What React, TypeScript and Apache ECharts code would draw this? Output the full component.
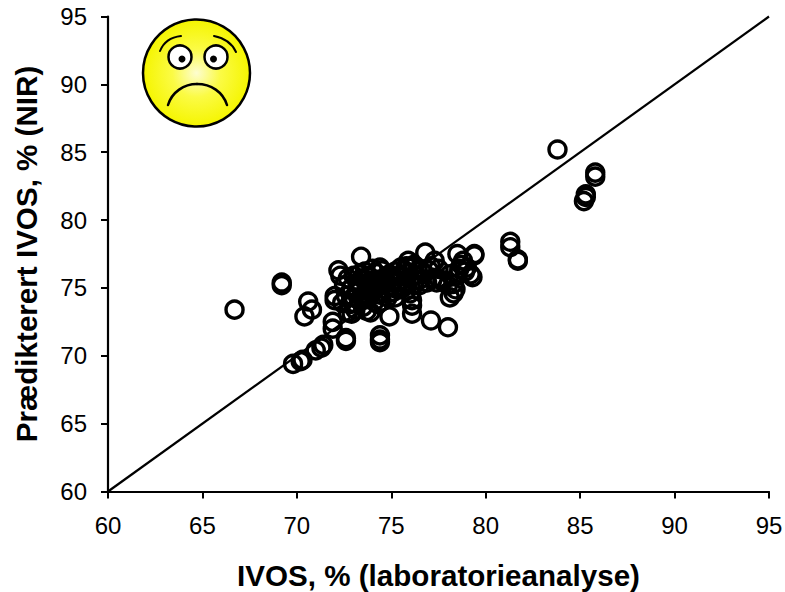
import React, { useEffect, useRef } from "react";
import * as echarts from "echarts";

const xLab = [
  66.7,69.2,69.2,69.8,70.2,70.3,70.4,70.6,70.8,71.0,71.3,71.4,71.9,71.9,72.0,72.0,72.2,72.3,72.6,72.6,
  72.9,73.4,73.9,74.3,74.4,74.4,74.4,74.4,74.9,75.5,75.5,75.8,75.9,76.1,76.1,76.1,76.8,77.1,77.1,77.3,
  77.4,78.0,78.0,78.1,78.3,78.4,78.5,78.5,78.7,78.8,79.2,79.3,79.4,79.4,81.3,81.3,81.7,81.7,83.8,85.2,
  85.3,85.3,85.8,85.8,
  72.5,72.6,72.7,72.8,72.9,73.0,73.0,73.1,73.2,73.2,73.3,73.3,73.4,73.5,73.5,73.6,73.6,73.7,73.7,73.8,
  73.8,73.9,74.0,74.0,74.1,74.1,74.2,74.2,74.3,74.4,74.5,74.5,74.6,74.7,74.8,74.9,75.0,75.1,75.2,75.2,
  75.3,75.4,75.5,75.6,75.7,75.8,75.9,76.0,76.0,76.1,76.2,76.2,76.3,76.4,76.5,76.7,76.9,77.0,77.2,77.5,
  77.7,78.1,78.3,78.6,78.9,79.0,
  72.4,72.7,73.0,73.5,74.5,74.8,75.2,75.8,76.5,77.5,
];
const yNir = [
  73.4,75.2,75.4,69.4,69.6,69.7,72.9,74.0,73.4,70.4,70.6,70.8,72.5,72.0,74.4,74.1,76.3,75.9,71.3,71.1,
  73.1,77.3,73.2,73.8,71.5,71.2,71.0,76.5,72.9,76.5,74.9,76.6,77.0,73.1,74.1,73.7,77.6,72.6,76.6,77.0,
  75.4,72.1,75.2,74.3,74.6,74.9,75.9,77.5,76.7,77.0,76.0,75.8,77.5,77.4,78.4,78.0,77.0,77.1,85.2,81.4,
  81.7,81.9,83.5,83.2,
  75.2,74.4,75.7,73.8,75.0,74.3,75.9,73.4,75.4,74.8,76.0,74.1,75.0,73.6,75.7,74.6,76.2,75.2,73.3,75.9,
  74.3,75.5,76.4,74.8,75.3,74.0,76.1,75.0,75.6,74.5,76.3,75.2,75.7,74.9,75.4,76.0,75.1,74.7,75.6,76.2,
  74.9,75.5,75.9,75.0,76.3,75.4,76.1,74.6,75.7,76.5,75.2,76.7,75.9,76.3,75.6,76.1,75.4,76.3,75.7,76.4,
  75.5,76.0,75.3,76.4,76.2,76.5,
  73.9,73.2,73.9,74.1,74.0,74.3,74.3,74.8,75.2,75.7,
];
const lineEnds = [[60, 60], [95, 95]];
const ticks = [60, 65, 70, 75, 80, 85, 90, 95];
const xTitle = "IVOS, % (laboratorieanalyse)";
const yTitle = "Prædikterert IVOS, % (NIR)";
const points = xLab.map((x, i) => [x, yNir[i]]);

const FONT = '"Liberation Sans", Arial, sans-serif';

const axis = (name: string, nameGap: number, margin: number) => ({
  type: "value",
  min: ticks[0],
  max: ticks[ticks.length - 1],
  interval: 5,
  name,
  nameLocation: "middle",
  nameGap,
  nameTextStyle: { color: "#000", fontFamily: FONT, fontWeight: "bold", fontSize: 29.6 },
  axisLine: { show: true, onZero: false, lineStyle: { color: "#000", width: 2.2 } },
  axisTick: { show: true, length: 7, lineStyle: { color: "#000", width: 2 } },
  axisLabel: { color: "#000", fontFamily: FONT, fontSize: 24, margin },
  splitLine: { show: false },
});

const black = { stroke: "#000", fill: "none", lineCap: "round" };

export default function App() {
  const ref = useRef<HTMLDivElement>(null);
  useEffect(() => {
    const chart = echarts.init(ref.current!, null, { renderer: "svg" });
    chart.setOption({
      animation: false,
      backgroundColor: "#fff",
      grid: { left: 108, right: 16, top: 16.5, bottom: 100.5, outerBoundsMode: "none", containLabel: false },
      xAxis: axis(xTitle, 69, 22),
      yAxis: axis(yTitle, 67, 21),
      series: [
        {
          type: "line",
          data: lineEnds,
          showSymbol: false,
          silent: true,
          clip: false,
          lineStyle: { color: "#000", width: 2.2 },
        },
        {
          type: "scatter",
          data: points,
          symbol: "circle",
          symbolSize: 17,
          clip: false,
          itemStyle: { color: "rgba(255,255,255,0)", borderColor: "#000", borderWidth: 3.4, opacity: 1 },
        },
      ],
      graphic: [
        {
          type: "group",
          silent: true,
          children: [
            {
              type: "circle",
              shape: { cx: 196.5, cy: 73, r: 53.5 },
              style: {
                stroke: "#000",
                lineWidth: 2.5,
                fill: new echarts.graphic.RadialGradient(0.5, 0.5, 0.5, [
                  { offset: 0, color: "#fdfdd0" },
                  { offset: 0.45, color: "#fbfb45" },
                  { offset: 1, color: "#f5f500" },
                ]),
              },
            },
            { type: "circle", shape: { cx: 180, cy: 57, r: 11.5 }, style: { fill: "#fff", stroke: "#000", lineWidth: 2.5 } },
            { type: "circle", shape: { cx: 216, cy: 57, r: 11.5 }, style: { fill: "#fff", stroke: "#000", lineWidth: 2.5 } },
            { type: "circle", shape: { cx: 182, cy: 59, r: 3.5 }, style: { fill: "#000" } },
            { type: "circle", shape: { cx: 213.5, cy: 59, r: 3.5 }, style: { fill: "#000" } },
            { type: "bezierCurve", shape: { x1: 160, y1: 51, cpx1: 164, cpy1: 41, cpx2: 172, cpy2: 37, x2: 181, y2: 36 }, style: { ...black, lineWidth: 2 } },
            { type: "bezierCurve", shape: { x1: 214, y1: 36, cpx1: 224, cpy1: 38, cpx2: 232, cpy2: 43, x2: 236, y2: 52 }, style: { ...black, lineWidth: 2 } },
            { type: "bezierCurve", shape: { x1: 168, y1: 105, cpx1: 172, cpy1: 92, cpx2: 184, cpy2: 84, x2: 197, y2: 84 }, style: { ...black, lineWidth: 2.5 } },
            { type: "bezierCurve", shape: { x1: 197, y1: 84, cpx1: 211, cpy1: 84, cpx2: 223, cpy2: 92, x2: 227, y2: 105 }, style: { ...black, lineWidth: 2.5 } },
          ],
        },
      ],
    });
    return () => chart.dispose();
  }, []);
  return <div ref={ref} style={{ position: "absolute", left: 0, top: 0, width: 785, height: 592 }} />;
}
